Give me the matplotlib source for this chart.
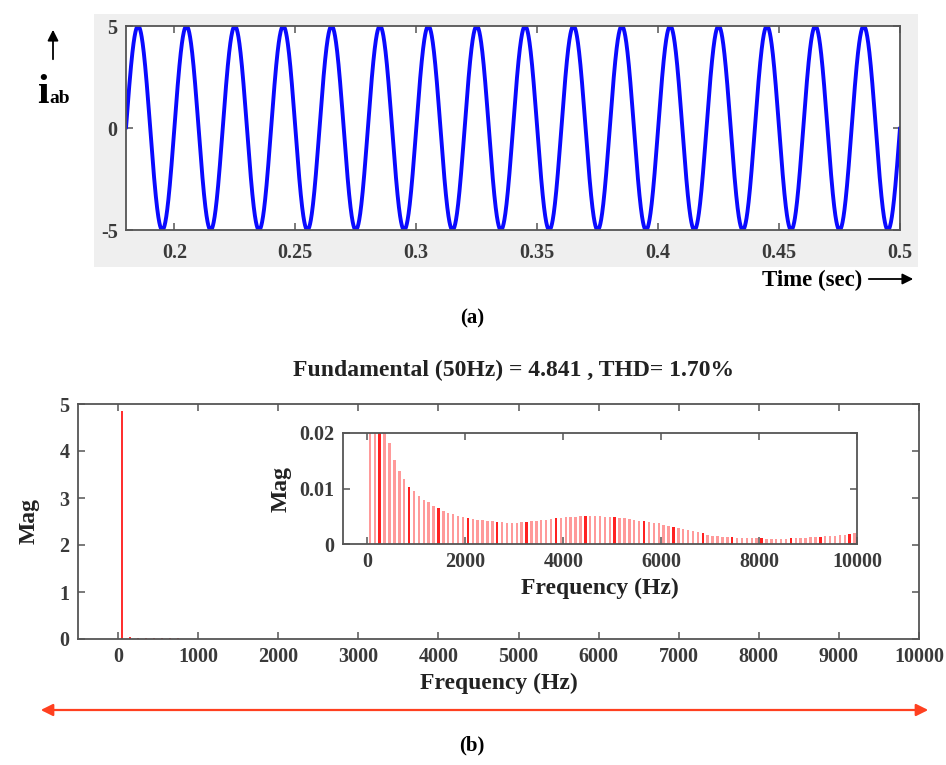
import numpy as np
import matplotlib
matplotlib.use("Agg")
import matplotlib.pyplot as plt
from matplotlib.patches import Rectangle, FancyArrowPatch

plt.rcParams["font.family"] = ["Liberation Serif", "DejaVu Serif"]
plt.rcParams["font.weight"] = "bold"
plt.rcParams["axes.unicode_minus"] = False

# ---- (a) phase-to-phase current waveform ----
current_amplitude = 5.0        # A
line_frequency = 50.0          # Hz
time_start, time_end = 0.18, 0.5
time_ticks = [0.2, 0.25, 0.3, 0.35, 0.4, 0.45, 0.5]
time_tick_labels = ["0.2", "0.25", "0.3", "0.35", "0.4", "0.45", "0.5"]
current_ticks = [-5, 0, 5]

# ---- (b) FFT spectrum ----
fundamental_freq = 50.0
fundamental_mag = 4.841
thd_percent = 1.70
harmonic_order = np.arange(3, 200, 2)          # odd harmonics 3 ... 199
harmonic_mag = [
    0.032, 0.026, 0.021, 0.0182, 0.0152, 0.0131, 0.0117, 0.0102, 0.0095, 0.0086,
    0.0080, 0.0075, 0.0069, 0.0064, 0.0060, 0.0056, 0.0054, 0.0051, 0.0049, 0.0047,
    0.0045, 0.0044, 0.0043, 0.0042, 0.0041, 0.0040, 0.0039, 0.0038, 0.0038, 0.0038,
    0.0039, 0.0040, 0.0041, 0.0042, 0.0043, 0.0044, 0.0045, 0.0046, 0.0047, 0.0048,
    0.0049, 0.0049, 0.0050, 0.0050, 0.0050, 0.0050, 0.0050, 0.0049, 0.0049, 0.0048,
    0.0047, 0.0046, 0.0045, 0.0044, 0.0042, 0.0041, 0.0039, 0.0038, 0.0037, 0.0035,
    0.0033, 0.0031, 0.0029, 0.0027, 0.0025, 0.0023, 0.0021, 0.0019, 0.0017, 0.0015,
    0.0014, 0.0013, 0.0012, 0.0012, 0.0011, 0.0011, 0.0010, 0.0010, 0.0010, 0.0010,
    0.0009, 0.0009, 0.0009, 0.0009, 0.0009, 0.0010, 0.0010, 0.0011, 0.0011, 0.0012,
    0.0012, 0.0013, 0.0014, 0.0015, 0.0015, 0.0016, 0.0017, 0.0018, 0.0019,
]
freq_ticks_main = [0, 1000, 2000, 3000, 4000, 5000, 6000, 7000, 8000, 9000, 10000]
freq_ticks_inset = [0, 2000, 4000, 6000, 8000, 10000]
mag_ticks_main = [0, 1, 2, 3, 4, 5]
mag_ticks_inset = [0, 0.01, 0.02]
mag_tick_labels_inset = ["0", "0.01", "0.02"]

spec_freq = np.concatenate([[fundamental_freq], fundamental_freq * harmonic_order])
spec_mag = np.concatenate([[fundamental_mag], harmonic_mag])

W, H = 946, 765
fig = plt.figure(figsize=(W / 100, H / 100), dpi=100)


def fx(px):
    return px / W


def fy(py):
    return 1 - py / H


AX_COLOR = "#555555"
TICK_COLOR = "#3a3a3a"


def style_axes(ax, size):
    for s in ax.spines.values():
        s.set_color(AX_COLOR)
        s.set_linewidth(1.3)
    ax.tick_params(direction="in", top=True, right=True, length=5, width=1.1,
                   color=AX_COLOR, labelsize=size, labelcolor=TICK_COLOR, pad=6)
    for lab in ax.get_xticklabels() + ax.get_yticklabels():
        lab.set_fontweight("bold")


# grey panel behind the waveform
fig.patches.append(Rectangle((fx(94), fy(267)), fx(918) - fx(94), fy(14) - fy(267),
                             transform=fig.transFigure, facecolor="#efefef",
                             edgecolor="none", zorder=-5))

ax_a = fig.add_axes([fx(126), fy(230), fx(900) - fx(126), fy(26) - fy(230)], zorder=2)
ax_a.set_facecolor("white")
t = np.linspace(time_start, time_end, 4000)
i_ab = current_amplitude * np.sin(2 * np.pi * line_frequency * t)
ax_a.plot(t, i_ab, color="#0a0aff", lw=2.8, solid_capstyle="round")
ax_a.set_xlim(time_start, time_end)
ax_a.set_ylim(-5, 5)
ax_a.set_xticks(time_ticks)
ax_a.set_xticklabels(time_tick_labels)
ax_a.set_yticks(current_ticks)
style_axes(ax_a, 14.5)
ax_a.tick_params(axis="x", pad=9)

# y label with arrow
fig.text(fx(37), fy(103), "i", fontsize=30, ha="left", va="baseline", fontweight="bold")
fig.text(fx(49), fy(103), "ab", fontsize=14, ha="left", va="baseline", fontweight="bold")
fig.add_artist(FancyArrowPatch(
    (fx(53), fy(62)), (fx(53), fy(27)), transform=fig.transFigure,
    arrowstyle="-|>", mutation_scale=16, color="black", lw=1.3))

fig.text(fx(812), fy(280), "Time (sec)", fontsize=16.5, fontweight="bold",
         ha="center", va="center")
fig.add_artist(FancyArrowPatch(
    (fx(866), fy(279)), (fx(916), fy(279)), transform=fig.transFigure,
    arrowstyle="-|>", mutation_scale=16, color="black", lw=1.3))

fig.text(fx(472), fy(318), "(a)", fontsize=15, ha="center", va="center",
         fontweight="bold")

# ---- spectrum main axes ----
ax_b = fig.add_axes([fx(78), fy(639), fx(919) - fx(78), fy(404) - fy(639)])
ax_b.bar(spec_freq, spec_mag, width=22, color="#ff3030", edgecolor="none")
ax_b.set_xlim(-500, 10000)
ax_b.set_ylim(0, 5)
ax_b.set_xticks(freq_ticks_main)
ax_b.set_yticks(mag_ticks_main)
style_axes(ax_b, 14.5)
ax_b.set_xlabel("Frequency (Hz)", fontsize=17, fontweight="bold", color="#222222",
                labelpad=4)
ax_b.set_ylabel("Mag", fontsize=17, fontweight="bold", color="#222222", labelpad=14)

fig.text(fx(514), fy(370), "Fundamental (%dHz) = %.3f , THD= %.2f%%"
         % (fundamental_freq, fundamental_mag, thd_percent),
         fontsize=17, fontweight="bold", ha="center", va="center", color="#222222")

# ---- zoomed inset ----
ax_in = fig.add_axes([fx(343), fy(544), fx(857) - fx(343), fy(433) - fy(544)])
colors = ["#ff2020" if k % 6 == 2 else "#ff9a9a" for k in range(len(spec_freq))]
ax_in.bar(spec_freq, spec_mag, width=50, color=colors, edgecolor="none")
ax_in.set_xlim(-500, 10000)
ax_in.set_ylim(0, 0.02)
ax_in.set_xticks(freq_ticks_inset)
ax_in.set_yticks(mag_ticks_inset)
ax_in.set_yticklabels(mag_tick_labels_inset)
style_axes(ax_in, 14.5)
ax_in.set_xlabel("Frequency (Hz)", fontsize=17, fontweight="bold", color="#222222",
                 labelpad=4)
ax_in.set_ylabel("Mag", fontsize=17, fontweight="bold", color="#222222", labelpad=6)

# double-headed span arrow and caption
fig.add_artist(FancyArrowPatch(
    (fx(38), fy(710)), (fx(931), fy(710)), transform=fig.transFigure,
    arrowstyle="<|-|>", mutation_scale=18, color="#ff4020", lw=1.6))
fig.text(fx(472), fy(745), "(b)", fontsize=15, ha="center", va="center",
         fontweight="bold")

fig.savefig("out.png", dpi=100)
